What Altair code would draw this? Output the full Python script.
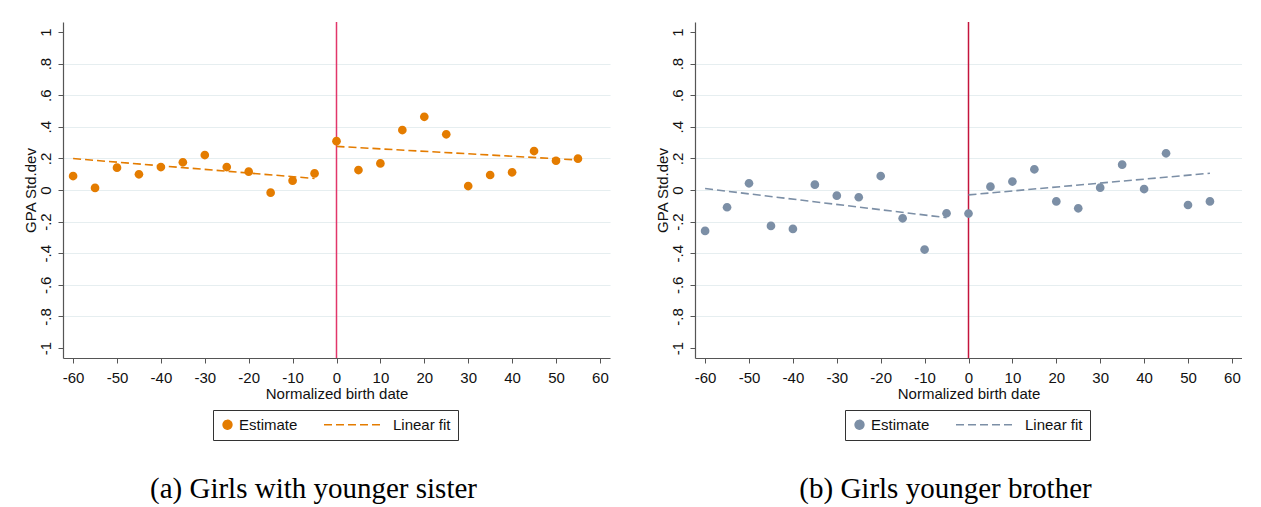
import altair as alt
import pandas as pd

# ---- data ----
birth_x = [-60, -55, -50, -45, -40, -35, -30, -25, -20, -15, -10, -5,
           0, 5, 10, 15, 20, 25, 30, 35, 40, 45, 50, 55]
sister_est = [0.088, 0.013, 0.141, 0.099, 0.145, 0.175, 0.221, 0.145, 0.116, -0.017, 0.059, 0.105,
              0.309, 0.126, 0.168, 0.379, 0.463, 0.352, 0.025, 0.095, 0.112, 0.246, 0.185, 0.198]
brother_est = [-0.259, -0.109, 0.042, -0.227, -0.246, 0.034, -0.036, -0.046, 0.088, -0.179, -0.377, -0.147,
               -0.149, 0.021, 0.053, 0.131, -0.072, -0.116, 0.015, 0.160, 0.006, 0.232, -0.095, -0.072]
fit_x = [-60, -5, 0, 55]
fit_segment = ["before", "before", "after", "after"]
sister_fit = [0.199, 0.073, 0.276, 0.190]
brother_fit = [0.009, -0.175, -0.031, 0.106]
cutoff_x = [0]
x_ticks = [-60, -50, -40, -30, -20, -10, 0, 10, 20, 30, 40, 50, 60]
y_ticks = [-1.0, -0.8, -0.6, -0.4, -0.2, 0.0, 0.2, 0.4, 0.6, 0.8, 1.0]
series_names = ["Estimate", "Linear fit"]
captions = ["(a) Girls with younger sister", "(b) Girls younger brother"]
dot_colors = ["#E47C00", "#7C8FA6"]
cutoff_colors = ["#E2366A", "#C4143C"]

SANS = "Liberation Sans"
SYM = 100  # symbol area -> 10 px box
CIRCLE = "M -0.87 0 A 0.87 0.87 0 1 1 0.87 0 A 0.87 0.87 0 1 1 -0.87 0 Z"
DASHLINE = "M -11.5 0 L 0.1 0"


def panel(est, fit, color, vcolor, caption):
    pts = pd.DataFrame({"x": birth_x, "y": est, "series": series_names[0]})
    fits = pd.DataFrame({"x": fit_x, "y": fit, "seg": fit_segment, "series": series_names[1]})
    cut = pd.DataFrame({"x": cutoff_x})

    xs = alt.Scale(domain=[-62.3, 62.3], nice=False, zero=False)
    ys = alt.Scale(domain=[-1.063, 1.063], nice=False, zero=False)
    xax = alt.Axis(values=x_ticks, title="Normalized birth date", grid=False,
                   labelExpr="(datum.value < 0 ? '-' : '') + abs(datum.value)",
                   tickSize=5, labelPadding=7, titlePadding=1)
    yax = alt.Axis(values=y_ticks, title="GPA Std.dev", grid=True,
                   gridColor="#E6EEF0", gridWidth=1.2,
                   gridOpacity={"condition": {"test": "abs(datum.value) > 0.95", "value": 0}, "value": 1},
                   labelExpr="datum.value == 0 ? '0' : (datum.value < 0 ? '-' : '') + replace(format(abs(datum.value), '~g'), '0.', '.')",
                   labelAngle=270, labelAlign="center", labelBaseline="bottom",
                   tickSize=5, labelPadding=5, titlePadding=0)

    leg = alt.Legend(orient="none", legendX=150, legendY=388, direction="horizontal",
                     strokeColor="#333333", padding=7, fillColor="white",
                     labelFont=SANS, labelFontSize=15, labelColor="#111111",
                     symbolSize=SYM, symbolStrokeColor=color, symbolFillColor=color,
                     symbolStrokeWidth=1.6, labelOffset=4, columnPadding=22)
    col = alt.Color("series:N", title=None, legend=leg,
                    scale=alt.Scale(domain=series_names, range=[color, color]))
    shp = alt.Shape("series:N", title=None, legend=leg,
                    scale=alt.Scale(domain=series_names, range=[CIRCLE, DASHLINE]))
    dash = alt.StrokeDash("series:N", title=None, legend=leg,
                          scale=alt.Scale(domain=series_names, range=[[1, 0], [8, 4]]))

    rule = alt.Chart(cut).mark_rule(color=vcolor, strokeWidth=1.5).encode(
        x=alt.X("x:Q", scale=xs, axis=xax))
    line = alt.Chart(fits).mark_line(strokeWidth=1.6).encode(
        x=alt.X("x:Q", scale=xs, axis=xax),
        y=alt.Y("y:Q", scale=ys, axis=yax),
        color=col, strokeDash=dash, detail="seg:N")
    dots = alt.Chart(pts).mark_point(filled=True, opacity=1, size=SYM).encode(
        x=alt.X("x:Q", scale=xs, axis=xax),
        y=alt.Y("y:Q", scale=ys, axis=yax),
        color=col, shape=shp)
    return alt.layer(rule, line, dots).properties(
        width=547, height=336,
        title=alt.TitleParams(caption, orient="bottom", anchor="middle", font="Liberation Serif",
                              fontSize=29, fontWeight="normal", color="black", dx=-23, offset=34))


left = panel(sister_est, sister_fit, dot_colors[0], cutoff_colors[0], captions[0])
right = panel(brother_est, brother_fit, dot_colors[1], cutoff_colors[1], captions[1])

chart = alt.hconcat(left, right, spacing=45).resolve_scale(
    color="independent", shape="independent", strokeDash="independent"
).properties(
    padding={"left": 23, "top": 21, "right": 0, "bottom": 0},
    background="white"
).configure_view(strokeWidth=0).configure_axis(
    labelFont=SANS, labelFontSize=15, labelColor="#111111",
    titleFont=SANS, titleFontSize=15, titleFontWeight="normal", titleColor="#111111",
    domainColor="#555555", tickColor="#555555", domainWidth=1.2
)

chart.save("out.html", embed_options={"renderer": "svg", "actions": False})
